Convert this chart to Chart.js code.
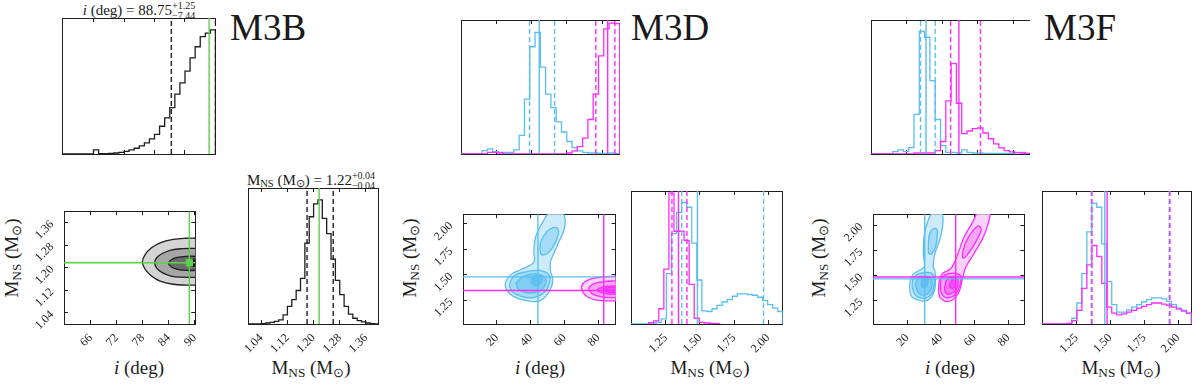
<!DOCTYPE html>
<html>
<head>
<meta charset="utf-8">
<script src="https://cdn.jsdelivr.net/npm/chart.js@4/dist/chart.umd.min.js"></script>
<style>
body{margin:0;background:#fff;width:1200px;height:385px;position:relative;overflow:hidden;font-family:"Liberation Serif",serif;color:#1a1a1a}
.t{position:absolute;white-space:nowrap;line-height:1}
.big{font-size:37px;line-height:37px}
.ax{font-size:19px;transform:translate(-50%,-50%)}
.ay{font-size:19px;transform:translate(-50%,-50%) rotate(-90deg)}
.ht{font-size:15px;transform:translateX(-50%)}
sub{font-size:0.7em;vertical-align:-0.25em;line-height:0}
.pm{display:inline-block;vertical-align:-0.45em;font-size:10px;line-height:10px;text-align:left}
</style>
</head>
<body>

<div class="t big" style="left:230px;top:9px">M3B</div>
<div class="t big" style="left:631px;top:9px">M3D</div>
<div class="t big" style="left:1044px;top:9px">M3F</div>

<div class="t ht" style="left:139px;top:1px"><i>i</i> (deg) = 88.75<span class="pm">+1.25<br>−7.44</span></div>
<div class="t ht" style="left:311px;top:171px">M<sub>NS</sub> (M<sub>⊙</sub>) = 1.22<span class="pm">+0.04<br>−0.04</span></div>

<div class="t ax" style="left:139px;top:367px"><i>i</i> (deg)</div>
<div class="t ax" style="left:311px;top:367px">M<sub>NS</sub> (M<sub>⊙</sub>)</div>
<div class="t ax" style="left:540px;top:367px"><i>i</i> (deg)</div>
<div class="t ax" style="left:710px;top:367px">M<sub>NS</sub> (M<sub>⊙</sub>)</div>
<div class="t ax" style="left:950px;top:367px"><i>i</i> (deg)</div>
<div class="t ax" style="left:1121px;top:367px">M<sub>NS</sub> (M<sub>⊙</sub>)</div>

<div class="t ay" style="left:11px;top:258px">M<sub>NS</sub> (M<sub>⊙</sub>)</div>
<div class="t ay" style="left:409px;top:258px">M<sub>NS</sub> (M<sub>⊙</sub>)</div>
<div class="t ay" style="left:818px;top:258px">M<sub>NS</sub> (M<sub>⊙</sub>)</div>

<script>
// ---------- M3B ----------
var bTicksI = [66, 72, 78, 84, 90];
var bTicksM = [1.04, 1.12, 1.20, 1.28, 1.36];
var bRangeI = [59.8, 90.1];
var bRangeM = [1.0, 1.4];
var bBinsI = [60, 1];           // first edge, width
var bCountsI = [0,0,0,0,0,0,12,1,1,2,3,5,8,12,17,24,33,45,58,82,107,137,177,210,245,284,317,347,357,367];
var bBinsM = [1.0, 0.013333];
var bCountsM = [0,0,0,1,3,5,8,12,27,52,72,99,135,239,317,355,367,312,267,192,129,87,52,29,17,10,6,3,1,0];
var bTopI = 402, bTopM = 402;
var bTruth = [88.75, 1.217];
var bQuantI = [81.31, 90.0];
var bQuantM = [1.18, 1.26];
var bOuter = [[90.6,1.304],[88,1.304],[85,1.300],[82,1.288],[80,1.270],[78.5,1.245],[77.9,1.22],[78.5,1.195],[80,1.17],[82,1.152],[85,1.141],[88,1.138],[90.6,1.138]];
var bMid   = [[90.6,1.268],[87,1.267],[84.5,1.262],[82.5,1.25],[81.2,1.235],[80.75,1.217],[81.2,1.198],[82.5,1.182],[84.5,1.170],[87,1.166],[90.6,1.165]];
var bInner = [[90.6,1.240],[88,1.240],[86,1.236],[84.6,1.228],[83.9,1.215],[84.6,1.202],[86,1.194],[88,1.190],[90.6,1.19]];
var bCore  = [[90.6,1.23],[89,1.228],[88.2,1.217],[89,1.207],[90.6,1.205]];

// ---------- M3D ----------
var dTicksI = [20, 40, 60, 80];
var dTicksM = [1.25, 1.50, 1.75, 2.00];
var dRangeI = [0, 90.2];
var dRangeM2 = [1.017, 2.096];
var dRangeMh = [0.995, 2.108];
var dBinsI = [0, 3];
var dCountsIBlue = [0,0,0,0,10,15,7,5,5,5,12,55,162,317,359,257,177,137,95,65,37,19,9,5,3,3,2,2,3,2];
var dCountsIMag  = [0,0,0,0,0,5,5,3,0,0,0,0,0,0,0,0,0,0,0,0,3,9,22,47,102,177,290,370,387,385];
var dBinsMBlue = [0.995, 0.0371];
var dCountsMBlue = [0,0,0,0,3,5,15,149,267,330,359,345,239,130,39,37,45,55,65,72,82,89,89,87,85,79,69,57,47,37];
var dBinsMMag = [1.1245, 0.0371];
var dCountsMMag = [4,9,45,162,387,274,274,247,117,17,5,3,2,1];
var dTopI = 396, dTopM = 393;
var dMedBlue = [44.4, 1.482], dMedMag = [83.2, 1.343];
var dLineBlue = [44.3, 1.48], dLineMag = [83.2, 1.346];
var dQuantIBlue = [38.9, 53.1], dQuantIMag = [76.5, 87.3];
var dQuantMBlue = [1.367, 1.966], dQuantMMag = [1.295, 1.405];
var dBlueOuter = [[41,1.236],[30.3,1.283],[25,1.392],[28.3,1.502],[35.1,1.557],[41.9,1.625],[41.9,1.734],[42.9,1.871],[46.8,2.008],[51.7,2.12],[58.4,2.12],[60.4,2.036],[59.4,1.926],[56.5,1.817],[53.6,1.707],[51.7,1.625],[51.7,1.543],[53,1.461],[52.2,1.379],[48.7,1.283],[44.9,1.242],[41,1.236]];
var dBlueMidTop = [[45.8,1.707],[45.8,1.817],[49.7,1.926],[54.6,1.967],[56.5,1.926],[54.6,1.817],[50.7,1.721],[47.2,1.693],[45.8,1.707]];
var dBlueMidLow = [[27.4,1.406],[30.3,1.494],[37.1,1.529],[44.9,1.543],[50.7,1.502],[51.1,1.42],[47.8,1.324],[41,1.275],[33.2,1.296],[28.9,1.337],[27.4,1.406]];
var dBlueInner = [[31.3,1.42],[36.1,1.488],[42.9,1.51],[48.3,1.474],[48.7,1.406],[44.9,1.337],[38.1,1.324],[32.9,1.357],[31.3,1.42]];
var dBlueCore = [[40,1.42],[41.9,1.483],[45.8,1.494],[46.8,1.447],[43,1.392],[40,1.42]];
var dMagOuter = [[90.6,1.485],[84,1.482],[78,1.47],[73.5,1.445],[70.7,1.41],[70.1,1.37],[71.2,1.32],[74,1.28],[78,1.255],[84,1.245],[90.6,1.243]];
var dMagMid   = [[90.6,1.44],[85,1.437],[80,1.425],[76,1.40],[74.4,1.36],[76,1.32],[80,1.29],[85,1.278],[90.6,1.275]];
var dMagInner = [[90.6,1.392],[86,1.39],[82,1.378],[79.4,1.352],[82,1.325],[86,1.312],[90.6,1.31]];
var dMagCore  = [[90.6,1.378],[86,1.375],[83,1.355],[86,1.33],[90.6,1.322]];

// ---------- M3F ----------
var fRangeI = [-0.3, 89.6];
var fRangeM2 = [1.018, 2.108];
var fRangeMh = [0.995, 2.10];
var fBinsI = [0, 3];
var fCountsIBlue = [0,0,0,0,7,12,7,19,117,362,345,217,102,25,5,5,3,12,5,3,3,2,2,2,2,2,2,5,5,2];
var fCountsIMag  = [0,0,0,0,0,0,0,0,3,3,3,3,10,37,157,267,150,60,68,75,77,62,45,30,18,10,6,4,3,2];
var fBinsM = [0.995, 0.0368];
var fCountsMBlue = [0,0,0,0,0,2,17,62,149,272,357,345,237,125,57,35,35,42,50,57,65,72,77,77,74,67,57,47,40,32];
var fCountsMMag  = [0,0,0,0,0,2,10,40,105,175,232,200,120,50,32,27,30,35,40,47,52,57,62,62,59,55,50,44,38,32];
var fTopI = 396, fTopM = 393;
var fMedBlue = [30.8, 1.459], fMedMag = [49.4, 1.476];
var fLineBlue = [30.4, 1.466], fLineMag = [48.8, 1.485];
var fQuantIBlue = [27.7, 36.0], fQuantIMag = [44.7, 61.6];
var fQuantMBlue = [1.359, 1.935], fQuantMMag = [1.364, 1.940];
var fBlueOuter = [[28.7,1.244],[22.9,1.286],[21.5,1.397],[23.3,1.507],[27.7,1.554],[30.2,1.59],[29.6,1.715],[30.2,1.909],[32.5,2.047],[35.4,2.13],[40.3,2.13],[41.2,2.019],[39.3,1.853],[36.4,1.715],[35.4,1.59],[36.4,1.549],[36.8,1.41],[35.4,1.314],[32.5,1.258],[28.7,1.244]];
var fBlueMidTop = [[32.5,1.742],[32.9,1.881],[34.5,1.95],[37.4,1.964],[37.9,1.895],[36.8,1.784],[34.5,1.715],[32.9,1.715],[32.5,1.742]];
var fBlueMidLow = [[22.9,1.397],[23.9,1.48],[27.7,1.521],[33.5,1.527],[36,1.48],[35.4,1.355],[32.5,1.286],[27.7,1.278],[24.4,1.314],[22.9,1.397]];
var fBlueInner = [[24.8,1.41],[26.4,1.471],[30.6,1.493],[34.1,1.466],[34.5,1.383],[31.6,1.314],[27.1,1.319],[24.8,1.41]];
var fBlueCore = [[28.3,1.424],[29.6,1.48],[32.2,1.471],[31.6,1.397],[29,1.383],[28.3,1.424]];
var fMagOuter = [[42.2,1.244],[39.3,1.286],[38.7,1.397],[40.3,1.507],[44.1,1.549],[46.4,1.577],[49.5,1.687],[53.8,1.881],[58.6,2.019],[62.4,2.13],[68.8,2.13],[67.7,1.992],[64.4,1.853],[59.6,1.715],[54.7,1.577],[52.8,1.466],[50.9,1.341],[48,1.272],[45.1,1.244],[42.2,1.244]];
var fMagMidTop = [[52.8,1.715],[54.7,1.826],[58.6,1.936],[62.4,1.992],[63.9,1.95],[60.5,1.826],[55.6,1.701],[53.1,1.673],[52.8,1.715]];
var fMagMidLow = [[39.7,1.383],[40.6,1.48],[44.1,1.516],[48.9,1.521],[51.8,1.493],[50.9,1.383],[48,1.3],[43.2,1.278],[40.6,1.314],[39.7,1.383]];
var fMagInner = [[42.2,1.383],[43.7,1.46],[48,1.48],[50.3,1.438],[48.9,1.355],[45.1,1.314],[42.6,1.333],[42.2,1.383]];
var fMagCore = [[45.1,1.41],[47,1.46],[48.9,1.438],[48,1.383],[45.7,1.377],[45.1,1.41]];

// colours
var BLUE = '#5abef0', MAG = '#ff2bff', GREEN = '#5bd04b', INK = '#1e1e1e';
var grayFills = ['#d4d4d4', '#a6a6a6', '#6b6b6b', '#111111'];
var blueFills = ['#cdebfb', '#a4dbf7', '#82cdf4', '#63c1f1'];
var magFills  = ['#f9d2f9', '#f4a6f4', '#ef78ef', '#ea50ea'];

Chart.defaults.font.family = '"Liberation Serif", serif';
Chart.defaults.font.size = 12;
Chart.defaults.color = INK;

function fixSize(v) {
	return function(s) { if (s.isHorizontal()) s.height = v; else s.width = v; };
}
function setTicks(arr) {
	return function(s) { s.ticks = (arr || []).map(function(v) { return {value: v}; }); };
}

function makeScale(pos, range, ticks, labels, size, decimals) {
	return {
		type: 'linear', position: pos, min: range[0], max: range[1], display: true,
		afterBuildTicks: setTicks(ticks),
		afterFit: fixSize(size),
		grid: {display: !!ticks, drawOnChartArea: false, drawTicks: true, tickLength: -4, color: INK, lineWidth: 1},
		border: {display: true, color: INK, width: 1},
		ticks: {
			display: labels, minRotation: 45, maxRotation: 45, autoSkip: false,
			padding: (pos === 'left') ? 16 : 11, color: INK, font: {size: 12},
			callback: function(v) { return decimals ? Number(v).toFixed(decimals) : String(v); }
		}
	};
}

// box = [left, top, width, height] of the plotting area, pad = [l, r, t, b]
function panel(box, pad, scales, datasets) {
	var c = document.createElement('canvas');
	var W = box[2] + pad[0] + pad[1], H = box[3] + pad[2] + pad[3];
	c.width = W; c.height = H;
	c.style.position = 'absolute';
	c.style.left = (box[0] - pad[0]) + 'px';
	c.style.top = (box[1] - pad[2]) + 'px';
	c.style.width = W + 'px'; c.style.height = H + 'px';
	document.body.appendChild(c);
	return new Chart(c, {
		type: 'scatter',
		data: {datasets: datasets.slice().reverse()},
		options: {
			responsive: false, animation: false, events: [],
			layout: {padding: 0},
			plugins: {legend: {display: false}, tooltip: {enabled: false}},
			scales: scales
		}
	});
}

function histDs(bins, counts, color) {
	var pts = [{x: bins[0], y: 0}];
	for (var k = 0; k < counts.length; k++) pts.push({x: bins[0] + k * bins[1], y: counts[k]});
	var end = bins[0] + counts.length * bins[1];
	pts.push({x: end, y: counts[counts.length - 1]});
	pts.push({x: end, y: 0});
	return {data: pts, showLine: true, stepped: true, borderColor: color, borderWidth: 1.3, pointRadius: 0, fill: false};
}
function vline(x, lo, hi, color, dashed) {
	return {data: [{x: x, y: lo}, {x: x, y: hi}], showLine: true, borderColor: color, borderWidth: 1.4,
		borderDash: dashed ? [5, 3] : [], pointRadius: 0, fill: false};
}
function hline(y, lo, hi, color) {
	return {data: [{x: lo, y: y}, {x: hi, y: y}], showLine: true, borderColor: color, borderWidth: 1.4, pointRadius: 0, fill: false};
}
function contour(pts, fillColor, lineColor) {
	return {data: pts.map(function(p) { return {x: p[0], y: p[1]}; }), showLine: true, fill: 'shape',
		backgroundColor: fillColor, borderColor: lineColor, borderWidth: 1.3, tension: 0.4, pointRadius: 0};
}

function histScales(xRange, yTop, ticks, labels, decimals, padB) {
	return {
		x: makeScale('bottom', xRange, ticks, labels, padB, decimals),
		x2: makeScale('top', xRange, ticks, false, 0, decimals),
		y: makeScale('left', [0, yTop], null, false, 0, 0),
		y2: makeScale('right', [0, yTop], null, false, 0, 0)
	};
}
function scales2d(xRange, yRange, xt, yt, ydec) {
	return {
		x: makeScale('bottom', xRange, xt, true, 40, 0),
		x2: makeScale('top', xRange, xt, false, 0, 0),
		y: makeScale('left', yRange, yt, true, 45, ydec),
		y2: makeScale('right', yRange, yt, false, 0, ydec)
	};
}

// ===== M3B =====
var ds = [histDs(bBinsI, bCountsI, INK)];
bQuantI.forEach(function(q) { ds.push(vline(q, 0, bTopI, INK, true)); });
ds.push(vline(bTruth[0], 0, bTopI, GREEN, false));
panel([64, 20, 150, 134], [2, 2, 2, 2], histScales(bRangeI, bTopI, bTicksI, false, 0, 2), ds);

ds = [];
[bOuter, bMid, bInner, bCore].forEach(function(c, k) { ds.push(contour(c, grayFills[k], INK)); });
ds.push(vline(bTruth[0], bRangeM[0], bRangeM[1], GREEN, false));
ds.push(hline(bTruth[1], bRangeI[0], bRangeI[1], GREEN));
ds.push({data: [{x: bTruth[0], y: bTruth[1]}], pointStyle: 'rect', pointRadius: 4.5, backgroundColor: GREEN, borderColor: GREEN, showLine: false});
panel([64, 190, 150, 134], [45, 2, 2, 40], scales2d(bRangeI, bRangeM, bTicksI, bTicksM, 2), ds);

ds = [histDs(bBinsM, bCountsM, INK)];
bQuantM.forEach(function(q) { ds.push(vline(q, 0, bTopM, INK, true)); });
ds.push(vline(bTruth[1], 0, bTopM, GREEN, false));
panel([236, 190, 150, 134], [2, 2, 2, 40], histScales(bRangeM, bTopM, bTicksM, true, 2, 40), ds);

// ===== M3D =====
ds = [histDs(dBinsI, dCountsIBlue, BLUE), histDs(dBinsI, dCountsIMag, MAG)];
dQuantIBlue.forEach(function(q) { ds.push(vline(q, 0, dTopI, BLUE, true)); });
ds.push(vline(dMedBlue[0], 0, dTopI, BLUE, false));
dQuantIMag.forEach(function(q) { ds.push(vline(q, 0, dTopI, MAG, true)); });
ds.push(vline(dMedMag[0], 0, dTopI, MAG, false));
panel([463, 22, 155, 132], [2, 2, 2, 2], histScales(dRangeI, dTopI, dTicksI, false, 0, 2), ds);

ds = [];
ds.push(contour(dBlueOuter, blueFills[0], BLUE));
ds.push(contour(dBlueMidTop, blueFills[1], BLUE));
ds.push(contour(dBlueMidLow, blueFills[1], BLUE));
ds.push(contour(dBlueInner, blueFills[2], BLUE));
ds.push(contour(dBlueCore, blueFills[3], BLUE));
[dMagOuter, dMagMid, dMagInner, dMagCore].forEach(function(c, k) { ds.push(contour(c, magFills[k], MAG)); });
ds.push(vline(dLineBlue[0], dRangeM2[0], dRangeM2[1], BLUE, false));
ds.push(hline(dLineBlue[1], dRangeI[0], dRangeI[1], BLUE));
ds.push(vline(dLineMag[0], dRangeM2[0], dRangeM2[1], MAG, false));
ds.push(hline(dLineMag[1], dRangeI[0], dRangeI[1], MAG));
panel([463, 193, 155, 131], [45, 2, 2, 40], scales2d(dRangeI, dRangeM2, dTicksI, dTicksM, 2), ds);

ds = [histDs(dBinsMBlue, dCountsMBlue, BLUE), histDs(dBinsMMag, dCountsMMag, MAG)];
dQuantMBlue.forEach(function(q) { ds.push(vline(q, 0, dTopM, BLUE, true)); });
ds.push(vline(dMedBlue[1], 0, dTopM, BLUE, false));
dQuantMMag.forEach(function(q) { ds.push(vline(q, 0, dTopM, MAG, true)); });
ds.push(vline(dMedMag[1], 0, dTopM, MAG, false));
panel([633, 193, 155, 131], [2, 2, 2, 40], histScales(dRangeMh, dTopM, dTicksM, true, 2, 40), ds);

// ===== M3F =====
ds = [histDs(fBinsI, fCountsIBlue, BLUE), histDs(fBinsI, fCountsIMag, MAG)];
fQuantIBlue.forEach(function(q) { ds.push(vline(q, 0, fTopI, BLUE, true)); });
ds.push(vline(fMedBlue[0], 0, fTopI, BLUE, false));
fQuantIMag.forEach(function(q) { ds.push(vline(q, 0, fTopI, MAG, true)); });
ds.push(vline(fMedMag[0], 0, fTopI, MAG, false));
panel([873, 22, 155, 132], [2, 2, 2, 2], histScales(fRangeI, fTopI, dTicksI, false, 0, 2), ds);

ds = [];
ds.push(contour(fBlueOuter, blueFills[0], BLUE));
ds.push(contour(fBlueMidTop, blueFills[1], BLUE));
ds.push(contour(fBlueMidLow, blueFills[1], BLUE));
ds.push(contour(fBlueInner, blueFills[2], BLUE));
ds.push(contour(fBlueCore, blueFills[3], BLUE));
ds.push(contour(fMagOuter, magFills[0], MAG));
ds.push(contour(fMagMidTop, magFills[1], MAG));
ds.push(contour(fMagMidLow, magFills[1], MAG));
ds.push(contour(fMagInner, magFills[2], MAG));
ds.push(contour(fMagCore, magFills[3], MAG));
ds.push(vline(fLineBlue[0], fRangeM2[0], fRangeM2[1], BLUE, false));
ds.push(hline(fLineBlue[1], fRangeI[0], fRangeI[1], BLUE));
ds.push(vline(fLineMag[0], fRangeM2[0], fRangeM2[1], MAG, false));
ds.push(hline(fLineMag[1], fRangeI[0], fRangeI[1], MAG));
panel([873, 193, 155, 131], [45, 2, 2, 40], scales2d(fRangeI, fRangeM2, dTicksI, dTicksM, 2), ds);

ds = [histDs(fBinsM, fCountsMBlue, BLUE), histDs(fBinsM, fCountsMMag, MAG)];
fQuantMBlue.forEach(function(q) { ds.push(vline(q, 0, fTopM, BLUE, true)); });
ds.push(vline(fMedBlue[1], 0, fTopM, BLUE, false));
fQuantMMag.forEach(function(q) { ds.push(vline(q, 0, fTopM, MAG, true)); });
ds.push(vline(fMedMag[1], 0, fTopM, MAG, false));
panel([1044, 193, 155, 131], [2, 1, 2, 40], histScales(fRangeMh, fTopM, dTicksM, true, 2, 40), ds);
</script>
</body>
</html>
